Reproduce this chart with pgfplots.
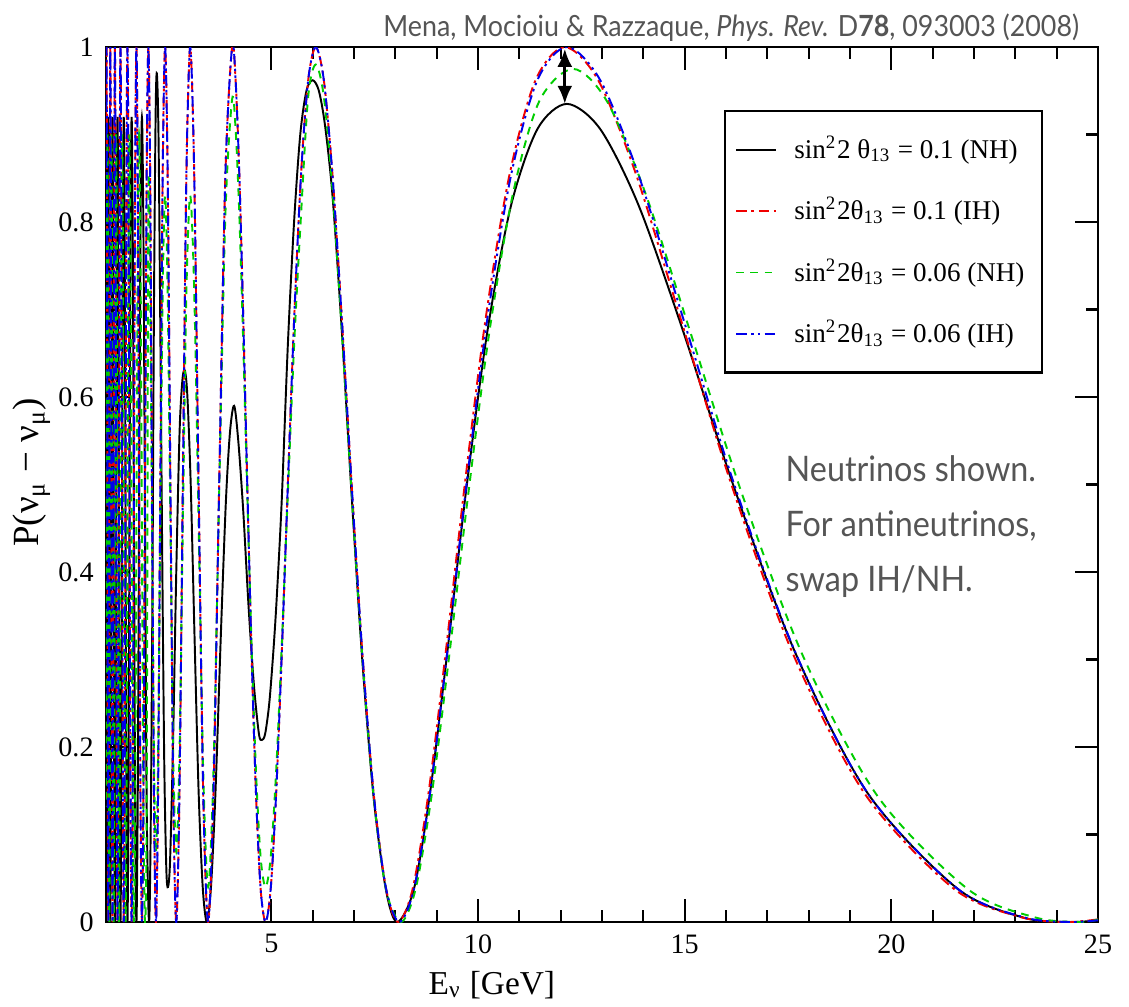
\documentclass[border=0pt]{standalone}
\usepackage{fontspec}
\setmainfont{Liberation Serif}
\newfontfamily\gilltitle[FakeStretch=0.92]{Lato}
\newfontfamily\gillnote[FakeStretch=0.92]{Lato}
\usepackage{pgfplots}
\pgfplotsset{compat=1.18}
\usetikzlibrary{arrows.meta}
\definecolor{grgreen}{RGB}{0,205,0}
\definecolor{grred}{RGB}{240,0,0}
\definecolor{grblue}{RGB}{0,0,235}
\definecolor{txtgray}{RGB}{85,85,85}
\begin{document}
\begin{tikzpicture}
\useasboundingbox (-1.06cm,-0.84cm) rectangle (10.23cm,9.22cm);
\begin{axis}[
  at={(0,0)}, anchor=south west,
  scale only axis, width=9.92cm, height=8.75cm,
  xmin=1, xmax=25, ymin=0, ymax=1,
  xtick={5,10,15,20,25}, minor x tick num=4,
  ytick={0,0.2,0.4,0.6,0.8,1}, minor y tick num=1,
  tick align=inside,
  major tick length=0.23cm, minor tick length=0.12cm,
  axis line style={line width=0.7pt},
  tick style={line width=0.6pt, black},
  tick label style={font=\fontsize{8}{9.6}\selectfont},
  /pgf/number format/assume math mode=true,
  xlabel={E\textsubscript{ν} [GeV]},
  ylabel={P(ν\textsubscript{μ} − ν\textsubscript{μ})},
  xlabel style={font=\fontsize{9.5}{11}\selectfont, at={(axis description cs:0.389,-0.072)}, anchor=center},
  ylabel style={font=\fontsize{10.5}{12}\selectfont, at={(axis description cs:-0.075,0.514)}, anchor=center},
  legend style={at={(axis description cs:0.9446,0.928)}, anchor=north east,
    font=\fontsize{7.7}{9.2}\selectfont, draw=black, line width=0.6pt,
    row sep=5.6pt, inner xsep=3pt, inner ysep=5pt},
  legend cell align=left,
  legend image code/.code={\draw[#1] (0cm,0cm) -- (0.4cm,0cm); \path (0.5cm,0cm);},
]
\addplot[black, line width=0.55pt, smooth] coordinates {
(25,0.002) (24.3,0) (23.2,0.005) (21.6,0.0381) (19.44,0.1464) (17.673,0.3081) (16.2,0.496) (14.954,0.6765) (13.886,0.819) (12.96,0.906) (12.15,0.935) (11.435,0.906) (10.8,0.819) (10.232,0.6765) (9.72,0.496) (9.257,0.3081) (8.836,0.1464) (8.452,0.0381) (8.05,0)
(7.78,0.035) (7.48,0.14) (7.2,0.30) (6.94,0.49) (6.7,0.68) (6.48,0.83) (6.3,0.91) (6.15,0.95) (6.0,0.962) (5.85,0.95) (5.7,0.9) (5.55,0.8) (5.4,0.66) (5.25,0.48) (5.13,0.37) (5.05,0.31) (4.95,0.25) (4.85,0.215) (4.77,0.208) (4.7,0.215) (4.58,0.27) (4.45,0.36) (4.32,0.47) (4.2,0.55) (4.1,0.59) (4.0,0.56) (3.9,0.48) (3.78,0.33) (3.65,0.15) (3.54,0.04) (3.44,0) (3.34,0.04) (3.24,0.15) (3.14,0.33) (3.05,0.5) (2.97,0.6) (2.91,0.63) (2.85,0.62) (2.78,0.56) (2.7,0.4) (2.62,0.2) (2.55,0.07) (2.5,0.04) (2.46,0.06) (2.41,0.18) (2.36,0.42) (2.31,0.7) (2.27,0.9) (2.23,0.97) (2.2,0.92) (2.16,0.7) (2.12,0.35) (2.08,0.1) (2.04,0)
(1.984,0.135) (1.944,0.46) (1.906,0.785) (1.869,0.92) (1.834,0.785) (1.8,0.46) (1.767,0.135) (1.736,0) (1.705,0.135) (1.676,0.46) (1.647,0.785) (1.62,0.92) (1.593,0.785) (1.568,0.46) (1.543,0.135) (1.519,0) (1.495,0.135) (1.473,0.46) (1.451,0.785) (1.429,0.92) (1.409,0.785) (1.389,0.46) (1.369,0.135) (1.35,0) (1.332,0.135) (1.314,0.46) (1.296,0.785) (1.279,0.92) (1.262,0.785) (1.246,0.46) (1.23,0.135) (1.215,0) (1.2,0.135) (1.185,0.46) (1.171,0.785) (1.157,0.92) (1.144,0.785) (1.13,0.46) (1.117,0.135) (1.1045,0) (1.092,0.135) (1.08,0.46) (1.068,0.785) (1.057,0.92) (1.045,0.785) (1.034,0.46) (1.023,0.135) (1.0125,0) (1.002,0.135)
};
\addlegendentry{sin\textsuperscript{2}2 θ\textsubscript{13} = 0.1 (NH)}
\addplot[grred, line width=0.55pt, smooth, dash pattern=on 3pt off 1.3pt on 0.8pt off 1.3pt] coordinates {
(25,0.003) (24.2,0) (23.1,0.006) (21.51,0.0381) (19.36,0.1464) (17.6,0.3087) (16.13,0.5) (14.89,0.6913) (13.83,0.8536) (12.91,0.9619) (12.1,1) (11.39,0.9619) (10.76,0.8536) (10.19,0.6913) (9.68,0.5) (9.22,0.3087) (8.8,0.1464) (8.42,0.0381) (8.07,0)
(7.776,0.0381) (7.477,0.1464) (7.2,0.3087) (6.943,0.5) (6.703,0.6913) (6.48,0.8536) (6.271,0.9619) (6.075,1) (5.891,0.9619) (5.718,0.8536) (5.554,0.6913) (5.4,0.5) (5.254,0.3087) (5.116,0.1464) (4.985,0.0381) (4.86,0) (4.741,0.0381) (4.629,0.1464) (4.521,0.3087) (4.418,0.5) (4.32,0.6913) (4.226,0.8536) (4.136,0.9619) (4.05,1)
(3.888,0.8536) (3.738,0.5) (3.6,0.1464) (3.471,0) (3.352,0.1464) (3.24,0.5) (3.135,0.8536) (3.0375,1) (2.945,0.8536) (2.859,0.5) (2.777,0.1464) (2.7,0) (2.627,0.1464) (2.558,0.5) (2.492,0.8536) (2.43,1) (2.371,0.8536) (2.314,0.5) (2.26,0.1464) (2.209,0) (2.16,0.1464) (2.113,0.5) (2.068,0.8536) (2.025,1)
(1.984,0.8536) (1.944,0.5) (1.906,0.1464) (1.869,0) (1.834,0.1464) (1.8,0.5) (1.767,0.8536) (1.736,1) (1.705,0.8536) (1.676,0.5) (1.647,0.1464) (1.62,0) (1.593,0.1464) (1.568,0.5) (1.543,0.8536) (1.519,1) (1.495,0.8536) (1.473,0.5) (1.451,0.1464) (1.429,0) (1.409,0.1464) (1.389,0.5) (1.369,0.8536) (1.35,1) (1.332,0.8536) (1.314,0.5) (1.296,0.1464) (1.279,0) (1.262,0.1464) (1.246,0.5) (1.23,0.8536) (1.215,1) (1.2,0.8536) (1.185,0.5) (1.171,0.1464) (1.157,0) (1.144,0.1464) (1.13,0.5) (1.117,0.8536) (1.1045,1) (1.092,0.8536) (1.08,0.5) (1.068,0.1464) (1.057,0) (1.045,0.1464) (1.034,0.5) (1.023,0.8536) (1.0125,1) (1.002,0.8536)
};
\addlegendentry{sin\textsuperscript{2}2θ\textsubscript{13} = 0.1 (IH)}
\addplot[grgreen, line width=0.55pt, smooth, dash pattern=on 2.2pt off 1.8pt] coordinates {
(25,0.003) (24.6,0) (23.5,0.005) (21.867,0.037) (19.68,0.143) (17.891,0.301) (16.4,0.4875) (15.138,0.674) (14.057,0.832) (13.12,0.938) (12.3,0.975) (11.482,0.938) (10.844,0.832) (10.274,0.674) (9.76,0.4875) (9.295,0.301) (8.873,0.143) (8.487,0.037) (8.133,0)
(7.776,0.037) (7.477,0.143) (7.2,0.303) (6.943,0.49) (6.703,0.677) (6.48,0.837) (6.271,0.943) (6.075,0.98) (5.891,0.943) (5.718,0.808) (5.554,0.662) (5.4,0.49) (5.254,0.318) (5.116,0.172) (4.985,0.074) (4.86,0.04) (4.741,0.074) (4.629,0.172) (4.521,0.318) (4.418,0.49) (4.32,0.662) (4.226,0.808) (4.136,0.906) (4.05,0.94)
(3.888,0.808) (3.738,0.49) (3.6,0.172) (3.471,0.04) (3.352,0.172) (3.24,0.455) (3.135,0.72) (3.0375,0.83) (2.945,0.72) (2.859,0.455) (2.777,0.19) (2.7,0.08) (2.627,0.19) (2.558,0.455) (2.492,0.72) (2.43,0.83) (2.371,0.72) (2.314,0.455) (2.26,0.19) (2.209,0.08) (2.16,0.19) (2.113,0.455) (2.068,0.72) (2.025,0.83)
(1.984,0.132) (1.944,0) (1.906,0.132) (1.869,0.45) (1.834,0.768) (1.8,0.9) (1.767,0.768) (1.736,0.45) (1.705,0.132) (1.676,0) (1.647,0.132) (1.62,0.45) (1.593,0.768) (1.568,0.9) (1.543,0.768) (1.519,0.45) (1.495,0.132) (1.473,0) (1.451,0.132) (1.429,0.45) (1.409,0.768) (1.389,0.9) (1.369,0.768) (1.35,0.45) (1.332,0.132) (1.314,0) (1.296,0.132) (1.279,0.45) (1.262,0.768) (1.246,0.9) (1.23,0.768) (1.215,0.45) (1.2,0.132) (1.185,0) (1.171,0.132) (1.157,0.45) (1.144,0.768) (1.13,0.9) (1.117,0.768) (1.1045,0.45) (1.092,0.132) (1.08,0) (1.068,0.132) (1.057,0.45) (1.045,0.768) (1.034,0.9) (1.023,0.768) (1.0125,0.45) (1.002,0.132)
};
\addlegendentry{sin\textsuperscript{2}2θ\textsubscript{13} = 0.06 (NH)}
\addplot[grblue, line width=0.55pt, smooth, dash pattern=on 3pt off 1.2pt on 0.7pt off 1.2pt on 0.7pt off 1.2pt] coordinates {
(25,0.002) (24.3,0) (23.2,0.0055) (21.6,0.0381) (19.44,0.1464) (17.673,0.3087) (16.2,0.5) (14.954,0.6913) (13.886,0.8536) (12.96,0.9619) (12.15,1) (11.435,0.9619) (10.8,0.8536) (10.232,0.6913) (9.72,0.5) (9.257,0.3087) (8.836,0.1464) (8.452,0.0381) (8.1,0)
(7.776,0.0381) (7.477,0.1464) (7.2,0.3087) (6.943,0.5) (6.703,0.6913) (6.48,0.8536) (6.271,0.9619) (6.075,1) (5.891,0.9619) (5.718,0.8536) (5.554,0.6913) (5.4,0.5) (5.254,0.3087) (5.116,0.1464) (4.985,0.0381) (4.86,0) (4.741,0.0381) (4.629,0.1464) (4.521,0.3087) (4.418,0.5) (4.32,0.6913) (4.226,0.8536) (4.136,0.9619) (4.05,1)
(3.888,0.8536) (3.738,0.5) (3.6,0.1464) (3.471,0) (3.352,0.1464) (3.24,0.5) (3.135,0.8536) (3.0375,1) (2.945,0.8536) (2.859,0.5) (2.777,0.1464) (2.7,0) (2.627,0.1464) (2.558,0.5) (2.492,0.8536) (2.43,1) (2.371,0.8536) (2.314,0.5) (2.26,0.1464) (2.209,0) (2.16,0.1464) (2.113,0.5) (2.068,0.8536) (2.025,1)
(1.984,0.8536) (1.944,0.5) (1.906,0.1464) (1.869,0) (1.834,0.1464) (1.8,0.5) (1.767,0.8536) (1.736,1) (1.705,0.8536) (1.676,0.5) (1.647,0.1464) (1.62,0) (1.593,0.1464) (1.568,0.5) (1.543,0.8536) (1.519,1) (1.495,0.8536) (1.473,0.5) (1.451,0.1464) (1.429,0) (1.409,0.1464) (1.389,0.5) (1.369,0.8536) (1.35,1) (1.332,0.8536) (1.314,0.5) (1.296,0.1464) (1.279,0) (1.262,0.1464) (1.246,0.5) (1.23,0.8536) (1.215,1) (1.2,0.8536) (1.185,0.5) (1.171,0.1464) (1.157,0) (1.144,0.1464) (1.13,0.5) (1.117,0.8536) (1.1045,1) (1.092,0.8536) (1.08,0.5) (1.068,0.1464) (1.057,0) (1.045,0.1464) (1.034,0.5) (1.023,0.8536) (1.0125,1) (1.002,0.8536)
};
\addlegendentry{sin\textsuperscript{2}2θ\textsubscript{13} = 0.06 (IH)}
\draw[black, line width=0.9pt, {Latex[length=1.8mm,width=1.5mm]}-{Latex[length=1.8mm,width=1.5mm]}] (axis cs:12.1,0.998) -- (axis cs:12.1,0.935);
\node[anchor=north west, inner sep=0pt, align=left, text=txtgray, font=\gillnote\fontsize{10}{15.6}\selectfont] at (axis description cs:0.6845,0.534) {Neutrinos shown.\\For antineutrinos,\\swap IH/NH.};
\end{axis}
\node[anchor=base east, inner sep=0pt, text=txtgray, font=\gilltitle\fontsize{8.3}{10}\selectfont] at (9.74cm,8.86cm) {Mena, Mocioiu \& Razzaque, \textit{Phys. Rev.} D\textbf{78}, 093003 (2008)};
\end{tikzpicture}
\end{document}
